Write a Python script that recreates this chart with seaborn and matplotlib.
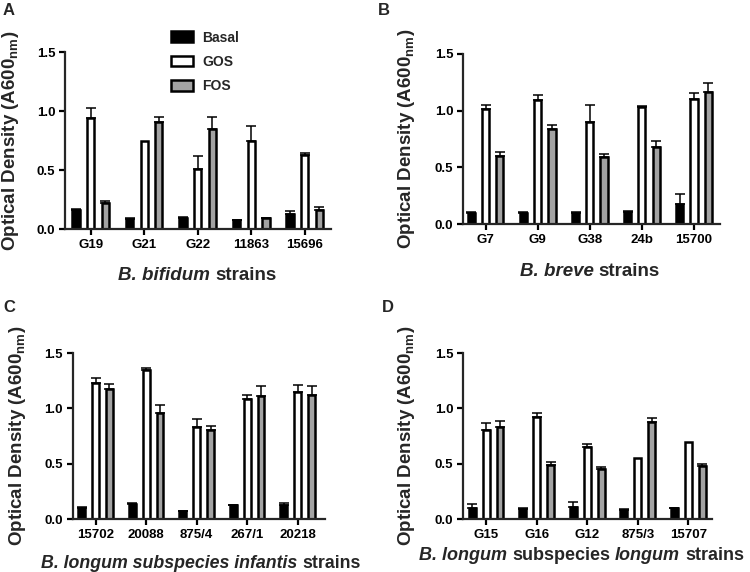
import pandas as pd
import matplotlib.pyplot as plt
import seaborn as sns
import numpy as np
from matplotlib.patches import Patch
from matplotlib.offsetbox import TextArea, HPacker, AnchoredOffsetbox

sns.set_style("ticks")
plt.rcParams['font.family'] = ['Liberation Sans', 'DejaVu Sans']
plt.rcParams['mathtext.fontset'] = 'custom'
plt.rcParams['mathtext.rm'] = 'Liberation Sans'
plt.rcParams['mathtext.bf'] = 'Liberation Sans:bold'

media = ["Basal", "GOS", "FOS"]
colors = {"Basal": "black", "GOS": "white", "FOS": "#a3a3a3"}

# panel A - B. bifidum
strains_a = ["G19", "G21", "G22", "11863", "15696"]
basal_a = [0.16, 0.083, 0.091, 0.074, 0.131]
basal_a_sd = [0.01, 0.007, 0.01, 0.004, 0.023]
gos_a = [0.94, 0.746, 0.51, 0.746, 0.624]
gos_a_sd = [0.085, 0.0, 0.11, 0.13, 0.023]
fos_a = [0.22, 0.909, 0.852, 0.091, 0.162]
fos_a_sd = [0.02, 0.045, 0.097, 0.006, 0.026]

# panel B - B. breve
strains_b = ["G7", "G9", "G38", "24b", "15700"]
basal_b = [0.098, 0.10, 0.098, 0.104, 0.178]
basal_b_sd = [0.005, 0.005, 0.005, 0.011, 0.085]
gos_b = [1.015, 1.092, 0.90, 1.033, 1.104]
gos_b_sd = [0.032, 0.044, 0.153, 0.007, 0.056]
fos_b = [0.60, 0.837, 0.589, 0.677, 1.169]
fos_b_sd = [0.033, 0.033, 0.029, 0.053, 0.071]

# panel C - B. longum subsp. infantis
strains_c = ["15702", "20088", "875/4", "267/1", "20218"]
basal_c = [0.102, 0.135, 0.07, 0.126, 0.123]
basal_c_sd = [0.003, 0.012, 0.005, 0.005, 0.018]
gos_c = [1.225, 1.345, 0.829, 1.087, 1.147]
gos_c_sd = [0.048, 0.021, 0.078, 0.033, 0.066]
fos_c = [1.171, 0.955, 0.80, 1.108, 1.117]
fos_c_sd = [0.048, 0.075, 0.04, 0.092, 0.087]

# panel D - B. longum subsp. longum
strains_d = ["G15", "G16", "G12", "875/3", "15707"]
basal_d = [0.097, 0.09, 0.109, 0.085, 0.10]
basal_d_sd = [0.042, 0.01, 0.042, 0.003, 0.003]
gos_d = [0.807, 0.918, 0.65, 0.553, 0.692]
gos_d_sd = [0.057, 0.04, 0.024, 0.0, 0.0]
fos_d = [0.834, 0.486, 0.456, 0.876, 0.477]
fos_d_sd = [0.056, 0.028, 0.018, 0.036, 0.018]

# x labels as (text, italic) pieces
xlabels = [
    [("B. bifidum", True), ("strains", False)],
    [("B. breve", True), ("strains", False)],
    [("B. longum subspecies infantis", True), ("strains", False)],
    [("B. longum", True), ("subspecies", False), ("longum", True), ("strains", False)],
]
ylabel = r"Optical Density (A600$_{\mathbf{nm}}$)"

panels = [
    ("A", strains_a, [basal_a, gos_a, fos_a], [basal_a_sd, gos_a_sd, fos_a_sd]),
    ("B", strains_b, [basal_b, gos_b, fos_b], [basal_b_sd, gos_b_sd, fos_b_sd]),
    ("C", strains_c, [basal_c, gos_c, fos_c], [basal_c_sd, gos_c_sd, fos_c_sd]),
    ("D", strains_d, [basal_d, gos_d, fos_d], [basal_d_sd, gos_d_sd, fos_d_sd]),
]

# layout in pixels: left, right, bottom, top of each axes
W, H = 750, 572
boxes = [(65, 331, 229, 52.3), (463, 720, 224, 54), (72.7, 325, 519, 353), (463, 712, 519, 353)]
xlims = [(-0.48, 4.49), (-0.435, 4.5), (-0.455, 4.54), (-0.46, 4.47)]
ylab_x = [-0.165, -0.179, -0.177, -0.185]
xlab_pos = [(0.498, -0.215), (0.494, -0.229), (0.507, -0.217), (0.476, -0.169)]
xlab_size = [13.5, 13.5, 12.8, 13]
letter_pos = [(0.004, 0.995), (0.504, 0.995), (0.004, 0.476), (0.509, 0.476)]

fig = plt.figure(figsize=(7.5, 5.72), dpi=100)

for i, (letter, strains, vals, sds) in enumerate(panels):
    l, r, b, t = boxes[i]
    ax = fig.add_axes([l / W, 1 - b / H, (r - l) / W, (b - t) / H])
    df = pd.DataFrame({
        "strain": np.repeat([strains], 3, axis=0).ravel(),
        "medium": np.repeat(media, len(strains)),
        "od": np.concatenate(vals),
    })
    sns.barplot(data=df, x="strain", y="od", hue="medium", order=strains,
                hue_order=media, palette=colors, edgecolor="black",
                linewidth=1.8, width=0.82, gap=0.5, errorbar=None,
                legend=False, ax=ax)
    # one-sided SD error bars on top of each bar
    for cont, sd in zip(ax.containers, sds):
        xs = np.array([p.get_x() + p.get_width() / 2 for p in cont])
        ys = np.array([p.get_height() for p in cont])
        sd = np.array(sd)
        m = sd > 0
        ax.errorbar(xs[m], ys[m], yerr=[np.zeros(m.sum()), sd[m]], fmt="none",
                    ecolor="black", elinewidth=1.1, capsize=3.5, capthick=1.1,
                    zorder=1)
    ax.set_xlim(*xlims[i])
    ax.set_ylim(0, 1.5)
    ax.set_yticks([0, 0.5, 1.0, 1.5])
    ax.set_yticklabels(["0.0", "0.5", "1.0", "1.5"])
    sns.despine(ax=ax)
    for s in ["left", "bottom"]:
        ax.spines[s].set_linewidth(1.6)
    ax.tick_params(axis="both", width=1.6, length=4.5, pad=2.5,
                   labelsize=9.5, colors="black")
    for lab in ax.get_xticklabels() + ax.get_yticklabels():
        lab.set_fontweight("bold")
    ax.set_ylabel(ylabel, fontsize=13.5, fontweight="bold")
    ax.yaxis.set_label_coords(ylab_x[i], 0.5)
    ax.set_xlabel("")

    # mixed italic / upright x label
    pieces = [TextArea(txt, textprops=dict(fontsize=xlab_size[i], fontweight="bold",
                                           fontstyle="italic" if it else "normal"))
              for txt, it in xlabels[i]]
    pack = HPacker(children=pieces, align="baseline", pad=0,
                   sep=0.278 * xlab_size[i])
    box = AnchoredOffsetbox(loc="upper center", child=pack, pad=0, borderpad=0,
                            frameon=False, bbox_to_anchor=xlab_pos[i],
                            bbox_transform=ax.transAxes)
    ax.add_artist(box)

    fig.text(letter_pos[i][0], letter_pos[i][1], letter, fontsize=12,
             fontweight="bold", va="top", ha="left")
    if letter == "A":
        handles = [Patch(facecolor=colors[m_], edgecolor="black", linewidth=1.8)
                   for m_ in media]
        ax.legend(handles, media, loc="center left",
                  bbox_to_anchor=(171 / W, 1 - 62 / H),
                  bbox_transform=fig.transFigure, frameon=False,
                  borderaxespad=0, borderpad=0, handlelength=1.6,
                  handleheight=0.8, handletextpad=0.65, labelspacing=0.75,
                  prop={"weight": "bold", "size": 10})

plt.savefig("out.png", dpi=100)
plt.close()
